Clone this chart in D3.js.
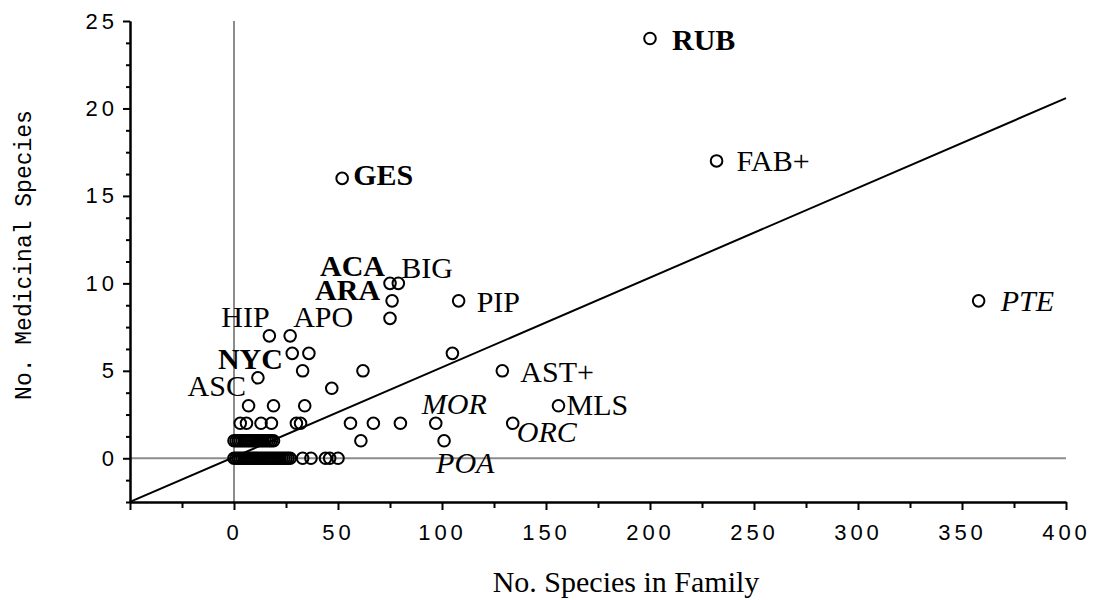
<!DOCTYPE html>
<html>
<head>
<meta charset="utf-8">
<script src="https://cdn.jsdelivr.net/npm/d3@7"></script>
<style>
    body { margin: 0; background: #fff; }
    .tick-label { font-family: "Liberation Sans", Arial, sans-serif; font-size: 22px; letter-spacing: 4px; fill: #000; }
    .fam-label { font-family: "Liberation Serif", "Times New Roman", serif; font-size: 30px; fill: #000; }
    .axis-title { font-family: "Liberation Serif", "Times New Roman", serif; font-size: 30px; fill: #000; }
    .y-title { font-family: "Courier New", "Liberation Mono", monospace; font-size: 23px; fill: #000; }
</style>
</head>
<body>
<div id="chart"></div>
<script>
// DATA
// labelled families
const labelledFamily = ["RUB", "FAB+", "GES", "PTE", "PIP", "BIG", "ACA", "ARA", "APO", "HIP", "NYC", "ASC", "AST+", "MLS", "MOR", "ORC", "POA"];
const labelledTotal = [200, 232, 52, 358, 108, 79, 75, 76, 27, 17, 11.5, 7, 129, 156, 97, 134, 101];
const labelledMedicinal = [24, 17, 16, 9, 9, 10, 10, 9, 7, 7, 4.6, 3, 5, 3, 2, 2, 1];

const boldFamilies = ["RUB", "GES", "ACA", "ARA", "NYC"];
const italicFamilies = ["PTE", "MOR", "ORC", "POA"];

// unlabelled families
const otherTotal = [
    75, 28, 36, 105, 33, 62, 47, 19, 34,
    3, 6, 13, 18, 30, 32, 56, 67, 80,
    61,
    0, 1, 2, 3, 4, 5, 6, 7, 8, 9, 10, 11, 12, 13, 14, 15, 16, 17, 18, 19,
    0, 1, 2, 3, 4, 5, 6, 7, 8, 9, 10, 11, 12, 13, 14, 15, 16, 17, 18, 19, 20, 21, 22, 23, 24, 25, 26, 27,
    33, 37, 44, 46, 50
];
const otherMedicinal = [
    8, 6, 6, 6, 5, 5, 4, 3, 3,
    2, 2, 2, 2, 2, 2, 2, 2, 2,
    1,
    1, 1, 1, 1, 1, 1, 1, 1, 1, 1, 1, 1, 1, 1, 1, 1, 1, 1, 1, 1,
    0, 0, 0, 0, 0, 0, 0, 0, 0, 0, 0, 0, 0, 0, 0, 0, 0, 0, 0, 0, 0, 0, 0, 0, 0, 0, 0, 0,
    0, 0, 0, 0, 0
];

// regression line
const fitSlope = 0.0513;
const fitIntercept = 0.07;

const xTicksMajor = [0, 50, 100, 150, 200, 250, 300, 350, 400];
const yTicksMajor = [0, 5, 10, 15, 20, 25];

// LAYOUT
const width = 1093;
const height = 600;
const margin = {top: 21, right: 27, bottom: 98, left: 130};
const r = 5.8;

// label offsets in pixels from the point (start of text, vertical centre)
const labelOffset = {
    "RUB": [22, 1], "FAB+": [20, 0], "GES": [11, -4], "PTE": [22, 0],
    "PIP": [18, 1], "BIG": [3, -16], "ACA": [-70, -18], "ARA": [-77, -11],
    "APO": [3, -19], "HIP": [-48, -19], "NYC": [-40, -19], "ASC": [-61, -20],
    "AST+": [18, 1], "MLS": [8, -1], "MOR": [-14, -20], "ORC": [4, 8], "POA": [-8, 22]
};

// CHART SETUP
const svg = d3.select("#chart")
    .append("svg")
    .attr("width", width)
    .attr("height", height);

const xScale = d3.scaleLinear()
    .domain([-50, 400])
    .range([margin.left, width - margin.right]);

const yScale = d3.scaleLinear()
    .domain([-2.5, 25])
    .range([height - margin.bottom, margin.top]);

// reference lines at zero
svg.append("line")
    .attr("x1", xScale(0)).attr("x2", xScale(0))
    .attr("y1", yScale(25)).attr("y2", yScale(-2.5))
    .attr("stroke", "#8c8c8c")
    .attr("stroke-width", 2);

svg.append("line")
    .attr("x1", xScale(-50)).attr("x2", xScale(400))
    .attr("y1", yScale(0)).attr("y2", yScale(0))
    .attr("stroke", "#8c8c8c")
    .attr("stroke-width", 2);

// fitted line
svg.append("line")
    .attr("x1", xScale(-50)).attr("y1", yScale(fitIntercept + fitSlope * -50))
    .attr("x2", xScale(400)).attr("y2", yScale(fitIntercept + fitSlope * 400))
    .attr("stroke", "#000")
    .attr("stroke-width", 2);

// axes
const xMinor = d3.range(-25, 400, 50);
const yMinor = d3.range(-2.5, 25, 1.25).filter(v => v % 5 !== 0);

const xAxisG = svg.append("g")
    .attr("transform", `translate(0, ${yScale(-2.5)})`);

xAxisG.append("g")
    .call(d3.axisBottom(xScale).tickValues(xMinor).tickSize(6).tickFormat("").tickSizeOuter(0));

xAxisG.append("g")
    .call(d3.axisBottom(xScale).tickValues([-50].concat(xTicksMajor)).tickSize(8).tickPadding(14)
        .tickFormat(d => d === -50 ? "" : d).tickSizeOuter(0));

const yAxisG = svg.append("g")
    .attr("transform", `translate(${xScale(-50)}, 0)`);

yAxisG.append("g")
    .call(d3.axisLeft(yScale).tickValues(yMinor).tickSize(4).tickFormat("").tickSizeOuter(0));

yAxisG.append("g")
    .call(d3.axisLeft(yScale).tickValues(yTicksMajor).tickSize(7).tickPadding(5).tickSizeOuter(0));

svg.selectAll(".domain")
    .attr("stroke", "#000")
    .attr("stroke-width", 2);

svg.selectAll(".tick line")
    .attr("stroke", "#000")
    .attr("stroke-width", 2);

svg.selectAll(".tick text")
    .attr("class", "tick-label")
    .attr("font-size", null)
    .attr("font-family", null);

// points
const others = otherTotal.map((d, i) => ({x: d, y: otherMedicinal[i]}));
const labelled = labelledFamily.map((name, i) => ({name, x: labelledTotal[i], y: labelledMedicinal[i]}));

svg.append("g")
    .selectAll("circle")
    .data(others.concat(labelled))
    .join("circle")
    .attr("cx", d => xScale(d.x))
    .attr("cy", d => yScale(d.y))
    .attr("r", r)
    .attr("fill", "none")
    .attr("stroke", "#000")
    .attr("stroke-width", 2);

svg.append("g")
    .selectAll("text")
    .data(labelled)
    .join("text")
    .attr("class", "fam-label")
    .attr("x", d => xScale(d.x) + labelOffset[d.name][0])
    .attr("y", d => yScale(d.y) + labelOffset[d.name][1])
    .attr("dy", "0.35em")
    .attr("font-weight", d => boldFamilies.includes(d.name) ? "bold" : "normal")
    .attr("font-style", d => italicFamilies.includes(d.name) ? "italic" : "normal")
    .text(d => d.name);

// titles
svg.append("text")
    .attr("class", "axis-title")
    .attr("x", 626)
    .attr("y", 592)
    .attr("text-anchor", "middle")
    .text("No. Species in Family");

svg.append("text")
    .attr("class", "y-title")
    .attr("transform", "translate(31, 255) rotate(-90)")
    .attr("text-anchor", "middle")
    .text("No. Medicinal Species");
</script>
</body>
</html>
